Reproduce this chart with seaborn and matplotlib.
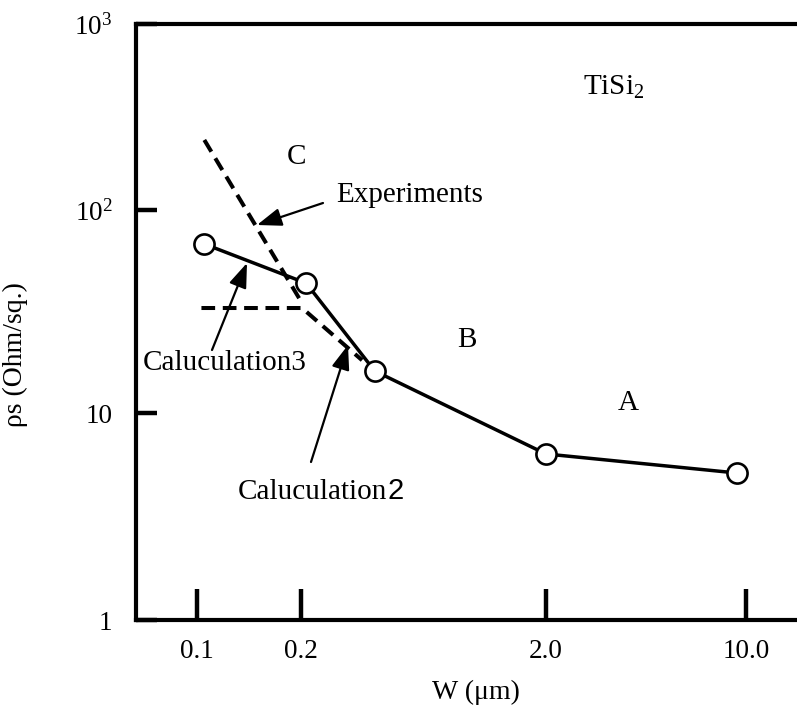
import numpy as np
import pandas as pd
import matplotlib
matplotlib.use("Agg")
import matplotlib.pyplot as plt
import seaborn as sns

# ---------------- data ----------------
tick_w = [0.1, 0.2, 2.0, 10.0]
tick_w_labels = ["0.1", "0.2", "2.0", "10.0"]
tick_rho = [1, 10, 100, 1000]
tick_rho_labels = ["1", "10", "$10^2$", "$10^3$"]

calc3_w = [0.105, 0.21, 0.40, 2.0, 9.3]
calc3_rho = [68, 43.6, 16.1, 6.34, 5.13]

exp_w = [0.105, 0.199]
exp_rho = [238, 36]

calc2_w = [0.103, 0.202, 0.355]
calc2_rho = [32.9, 32.9, 18.2]

# ---------------- hand-drawn (non-uniform) axis scales ----------------
X_LOG = np.log10(tick_w)
X_U = np.array([0.61, 1.65, 4.10, 6.10])
Y_LOG = np.log10(tick_rho)
Y_U = np.array([0.0, 2.07, 4.10, 5.96])


def _pw(v, a, b):
    v = np.asarray(v, dtype=float)
    out = np.interp(v, a, b)
    sl = (b[1] - b[0]) / (a[1] - a[0])
    sr = (b[-1] - b[-2]) / (a[-1] - a[-2])
    out = np.where(v < a[0], b[0] + (v - a[0]) * sl, out)
    out = np.where(v > a[-1], b[-1] + (v - a[-1]) * sr, out)
    return out


def xf(w):
    return _pw(np.log10(np.clip(np.asarray(w, float), 1e-12, None)), X_LOG, X_U)


def xi(u):
    return 10 ** _pw(u, X_U, X_LOG)


def yf(r):
    return _pw(np.log10(np.clip(np.asarray(r, float), 1e-12, None)), Y_LOG, Y_U)


def yi(v):
    return 10 ** _pw(v, Y_U, Y_LOG)


# ---------------- figure ----------------
sns.set_style("white")
plt.rcParams["font.family"] = ["Liberation Serif", "DejaVu Serif"]
plt.rcParams["mathtext.fontset"] = "custom"
plt.rcParams["mathtext.rm"] = "Liberation Serif"
plt.rcParams["mathtext.it"] = "Liberation Serif:italic"
for k in ["text.color", "axes.labelcolor", "xtick.color", "ytick.color"]:
    plt.rcParams[k] = "black"

W, H = 797, 708
fig = plt.figure(figsize=(W / 100, H / 100), dpi=100)
L, R, T, B = 136, 797, 24, 620
ax = fig.add_axes([L / W, 1 - B / H, (R - L) / W, (B - T) / H])
ax.set_xscale("function", functions=(xf, xi))
ax.set_yscale("function", functions=(yf, yi))
ax.set_xlim(xi(0.0), xi((R - L) / 100))
ax.set_ylim(1, 1000)

df3 = pd.DataFrame({"W": calc3_w, "rho": calc3_rho})
dfe = pd.DataFrame({"W": exp_w, "rho": exp_rho})
df2 = pd.DataFrame({"W": calc2_w, "rho": calc2_rho})

dash = (0, (3.4, 1.9))
sns.lineplot(data=dfe, x="W", y="rho", ax=ax, color="black", lw=2.9,
             linestyle=dash, sort=False, zorder=2)
sns.lineplot(data=df2, x="W", y="rho", ax=ax, color="black", lw=2.9,
             linestyle=dash, sort=False, zorder=2)
sns.lineplot(data=df3, x="W", y="rho", ax=ax, color="black", lw=2.5,
             marker="o", markersize=14.5, markerfacecolor="white",
             markeredgecolor="black", markeredgewidth=1.9, sort=False, zorder=3)

# spines / ticks
for s in ["left", "top", "bottom"]:
    ax.spines[s].set_linewidth(3)
    ax.spines[s].set_color("black")
ax.spines["right"].set_visible(False)

ax.set_xticks(tick_w)
ax.set_xticklabels(tick_w_labels)
ax.set_yticks(tick_rho)
ax.set_yticklabels(tick_rho_labels)
ax.minorticks_off()
ax.tick_params(axis="x", bottom=True, direction="in", length=22, width=3.2,
               pad=14, labelsize=19.5, colors="black")
ax.tick_params(axis="y", left=True, direction="in", length=15, width=3.2,
               pad=17, labelsize=19.5, colors="black")

ax.set_xlabel("W (μm)", fontsize=20)
ax.set_ylabel("ρs (Ohm/sq.)", fontsize=20)
ax.xaxis.set_label_coords((476 - L) / (R - L), (B - 680) / (B - T))
ax.yaxis.set_label_coords((28 - L) / (R - L), (B - 355) / (B - T))


def af(px, py):
    return ((px - L) / (R - L), (B - py) / (B - T))


FS = 21
ax.text(*af(336, 195), "Experiments", transform=ax.transAxes, fontsize=FS,
        ha="left", va="center")
ax.text(*af(143, 363), "Caluculation3", transform=ax.transAxes,
        fontsize=FS, ha="left", va="center")
t2 = ax.text(*af(238, 492), "Caluculation", transform=ax.transAxes,
             fontsize=FS, ha="left", va="center")
ax.annotate("2", xy=(1, 0), xycoords=t2, xytext=(0, 0),
            textcoords="offset points", fontsize=FS, ha="left", va="bottom",
            family=["Liberation Sans", "DejaVu Sans"])
ax.text(*af(296, 157), "C", transform=ax.transAxes, fontsize=FS,
        ha="center", va="center")
ax.text(*af(467, 340), "B", transform=ax.transAxes, fontsize=FS,
        ha="center", va="center")
ax.text(*af(628, 403), "A", transform=ax.transAxes, fontsize=FS,
        ha="center", va="center")
ax.text(*af(583, 87), "TiSi$_2$", transform=ax.transAxes, fontsize=FS,
        ha="left", va="center")

aprops = dict(arrowstyle="-|>,head_length=0.6,head_width=0.22", lw=1.6,
              color="black", mutation_scale=25, shrinkA=0, shrinkB=0)
for start, tip in [((323, 203), (257, 225)),
                   ((212, 350), (247, 263)),
                   ((311, 462), (348, 345))]:
    ax.annotate("", xy=af(*tip), xycoords="axes fraction",
                xytext=af(*start), textcoords="axes fraction",
                arrowprops=aprops)

fig.savefig("out.png", dpi=100)
